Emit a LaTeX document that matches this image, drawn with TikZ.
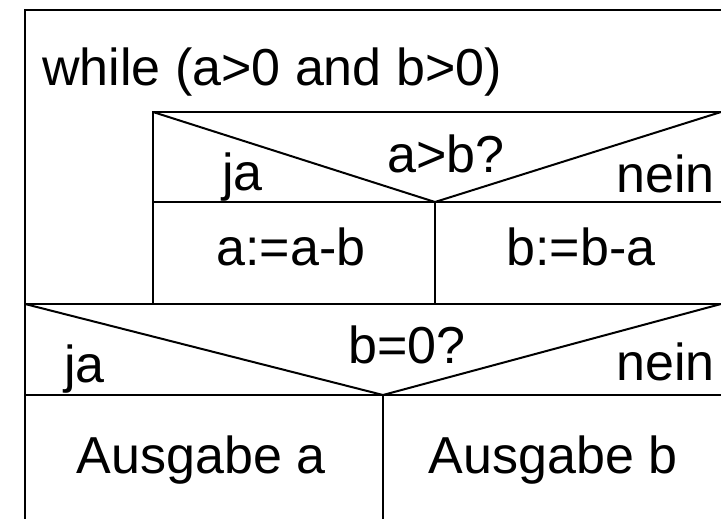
\documentclass[tikz,border=0pt]{standalone}
\usepackage{fontspec}
\setmainfont{Liberation Sans}
\usetikzlibrary{positioning}

\begin{document}
\begin{tikzpicture}[x=1pt, y=-1pt, every node/.style={font=\fontsize{52}{60}\selectfont, inner sep=0pt},
  frame/.style={line width=2.4pt, line cap=rect},
  diag/.style={line width=2pt},
  lbl/.style={anchor=base west},
  mid/.style={anchor=base}]
  \useasboundingbox (0,0) rectangle (721,519);
  % corners of the blocks
  \coordinate (tl) at (25,10);
  \coordinate (tr) at (724,10);
  \coordinate (ifA) at (153,112);
  \coordinate (ifAr) at (724,112);
  \coordinate (vA) at (435,202);
  \coordinate (ifB) at (25,304);
  \coordinate (ifBr) at (724,304);
  \coordinate (vB) at (383,395);
  % while frame
  \draw[frame] (25,530) -- (tl) -- (tr);
  \draw[frame] (ifA |- ifB) -- (ifA) -- (ifAr);
  \draw[frame] (153,202) -- (724,202);
  \draw[frame] (vA) -- (vA |- ifB);
  \draw[frame] (ifB) -- (ifBr);
  \draw[frame] (25,395) -- (724,395);
  \draw[frame] (vB) -- (383,530);
  % condition diagonals
  \draw[diag] (ifA) -- (vA) -- (721,112);
  \draw[diag] (ifB) -- (vB) -- (721,304);
  % texts
  \node[lbl] (loop) at (42,85) {while (a>0 and b>0)};
  \node[lbl] (jaA) at (222,190) {ja};
  \node[lbl] (condA) at (387,172) {a>b?};
  \node[lbl] (neinA) at (616,192) {nein};
  \node[mid] (thenA) at (291,265) {a:=a-b};
  \node[mid] (elseA) at (581,265) {b:=b-a};
  \node[lbl] (jaB) at (64,382) {ja};
  \node[lbl] (condB) at (348,363) {b=0?};
  \node[lbl] (neinB) at (616,380) {nein};
  \node[mid] (outA) at (201,473) {Ausgabe a};
  \node[mid] (outB) at (553,473) {Ausgabe b};
\end{tikzpicture}
\end{document}
